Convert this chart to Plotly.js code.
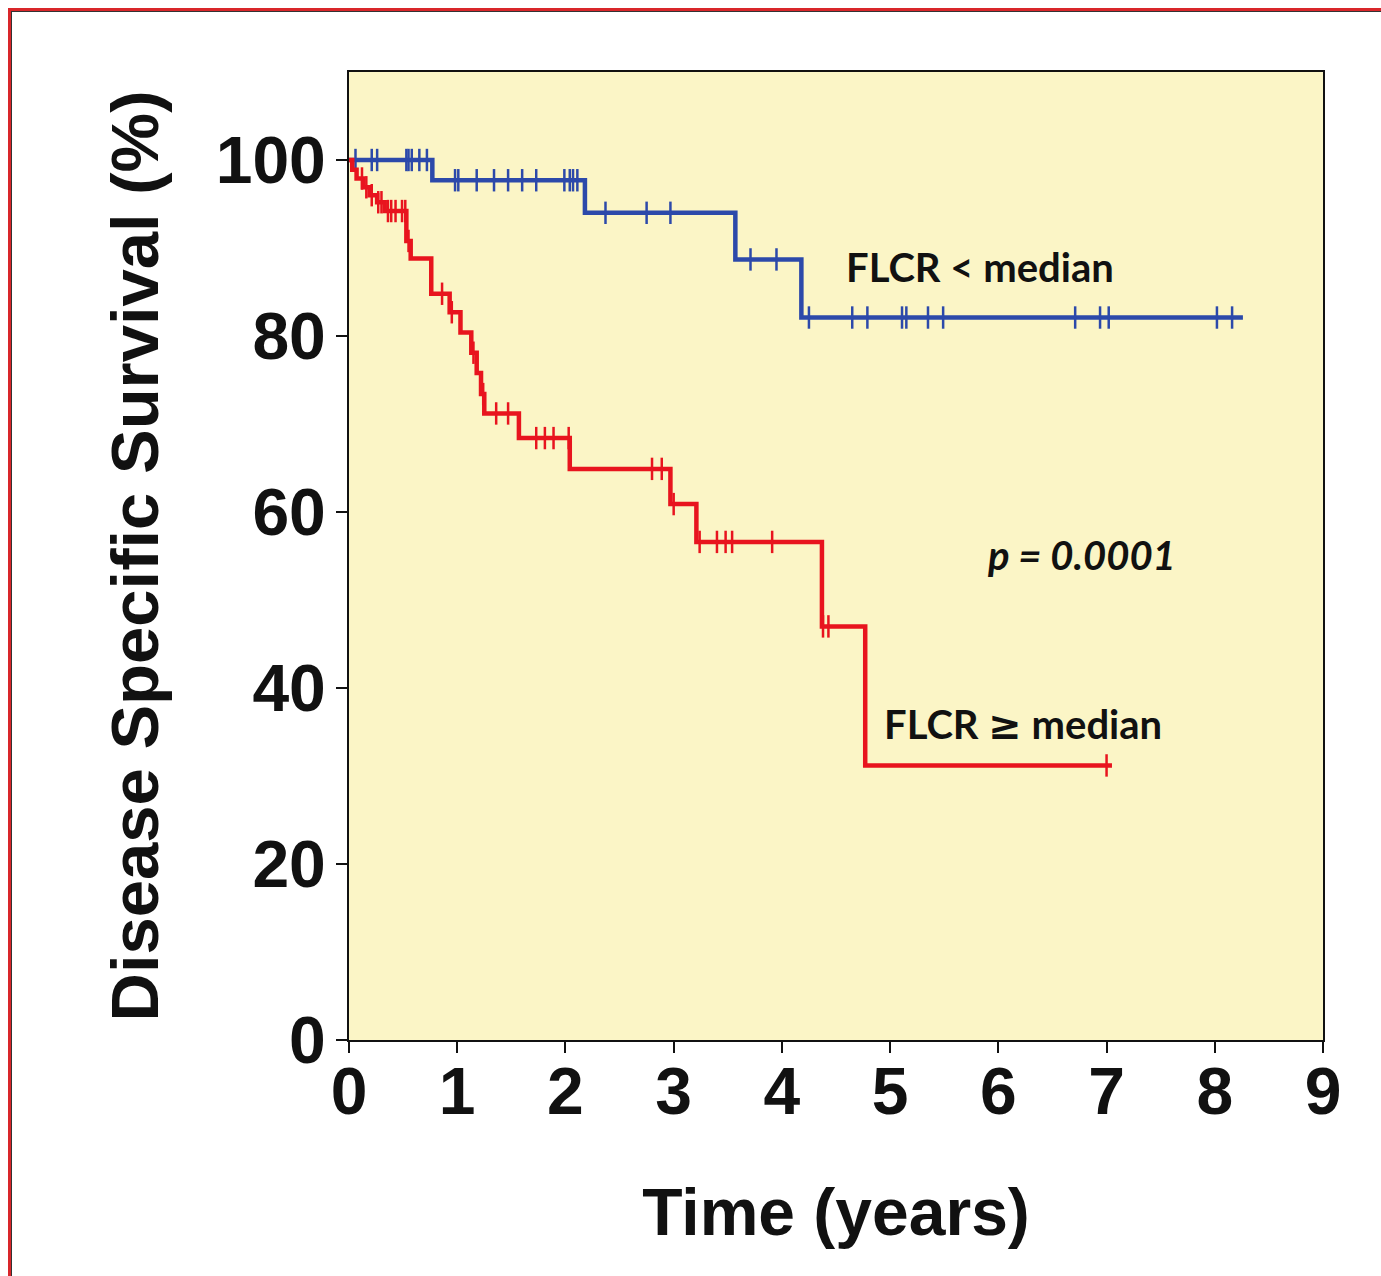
<!DOCTYPE html>
<html>
<head>
<meta charset="utf-8">
<script src="https://cdn.plot.ly/plotly-3.0.1.min.js"></script>
<style>
  html, body { margin: 0; padding: 0; background: #ffffff; }
  #wrap { position: relative; width: 1381px; height: 1276px; overflow: hidden; }
  #chart { position: absolute; left: 0; top: 0; width: 1381px; height: 1276px; }
  #frame { position: absolute; left: 8px; top: 8px; width: 1400px; height: 1300px;
           border-left: 3px solid #d9262a; border-top: 3px solid #d9262a;
           box-shadow: inset 1px 1px 0 #333; pointer-events: none; }
</style>
</head>
<body>
<div id="wrap">
  <div id="chart"></div>
  <div id="frame"></div>
</div>
<script>
// FLCR < median (blue) Kaplan-Meier steps
const lowTimes = [0, 0.77, 2.18, 3.57, 4.18, 8.26];
const lowSurv  = [100, 97.7, 94.0, 88.7, 82.1, 82.1];
// censored observations, FLCR < median
const lowCensTimes = [0.06, 0.21, 0.26, 0.53, 0.55, 0.58, 0.65, 0.72,
                      0.98, 1.01, 1.18, 1.34, 1.47, 1.60, 1.73, 1.99, 2.04, 2.07, 2.11,
                      2.37, 2.75, 2.97,
                      3.71, 3.95,
                      4.25, 4.65, 4.79, 5.11, 5.15, 5.35, 5.49, 6.71, 6.94, 7.02, 8.02, 8.16];
const lowCensSurv  = [100, 100, 100, 100, 100, 100, 100, 100,
                      97.7, 97.7, 97.7, 97.7, 97.7, 97.7, 97.7, 97.7, 97.7, 97.7, 97.7,
                      94.0, 94.0, 94.0,
                      88.7, 88.7,
                      82.1, 82.1, 82.1, 82.1, 82.1, 82.1, 82.1, 82.1, 82.1, 82.1, 82.1, 82.1];

// FLCR >= median (red) Kaplan-Meier steps
const highTimes = [0, 0.03, 0.07, 0.13, 0.19, 0.26, 0.33, 0.53, 0.57, 0.76, 0.93, 1.03, 1.13,
                   1.18, 1.22, 1.25, 1.57, 2.04, 2.97, 3.21, 4.37, 4.77, 7.05];
const highSurv  = [100, 98.9, 97.9, 96.9, 96.0, 95.2, 94.2, 90.8, 88.8, 84.8, 82.7, 80.4, 78.1,
                   75.8, 73.4, 71.2, 68.4, 64.9, 60.9, 56.6, 47.0, 31.2, 31.2];
// censored observations, FLCR >= median
const highCensTimes = [0.12, 0.16, 0.21, 0.27, 0.30, 0.36, 0.39, 0.43, 0.49, 0.52,
                       0.55, 0.86, 0.95, 1.15, 1.24, 1.36, 1.47,
                       1.73, 1.81, 1.89, 2.03, 2.80, 2.89, 3.00,
                       3.24, 3.40, 3.48, 3.54, 3.91, 4.38, 4.43, 7.00];
const highCensSurv  = [97.9, 96.9, 96.0, 95.2, 95.2, 94.2, 94.2, 94.2, 94.2, 94.2,
                       90.8, 84.8, 82.7, 78.1, 73.4, 71.2, 71.2,
                       68.4, 68.4, 68.4, 68.4, 64.9, 64.9, 60.9,
                       56.6, 56.6, 56.6, 56.6, 56.6, 47.0, 47.0, 31.2];

const xTicks = [0, 1, 2, 3, 4, 5, 6, 7, 8, 9];
const yTicks = [0, 20, 40, 60, 80, 100];

const blue = '#2c49aa';
const red  = '#e8141e';

const traces = [
  { x: lowTimes, y: lowSurv, mode: 'lines', line: { shape: 'hv', color: blue, width: 4.5 },
    name: 'FLCR < median', showlegend: false, hoverinfo: 'x+y' },
  { x: lowCensTimes, y: lowCensSurv, mode: 'markers',
    marker: { symbol: 'line-ns-open', size: 16, color: blue, line: { color: blue, width: 2.5 } },
    showlegend: false, hoverinfo: 'x+y' },
  { x: highTimes, y: highSurv, mode: 'lines', line: { shape: 'hv', color: red, width: 4.5 },
    name: 'FLCR ≥ median', showlegend: false, hoverinfo: 'x+y' },
  { x: highCensTimes, y: highCensSurv, mode: 'markers',
    marker: { symbol: 'line-ns-open', size: 16, color: red, line: { color: red, width: 2.5 } },
    showlegend: false, hoverinfo: 'x+y' }
];

const axisFont = { family: 'Liberation Sans, Arial, sans-serif', size: 66, color: '#111', weight: 'bold' };
const annFont = { family: 'Lato, Open Sans, sans-serif', size: 40, color: '#111', weight: 'bold' };

const layout = {
  width: 1381, height: 1276,
  margin: { l: 349, r: 58, t: 72, b: 236 },
  paper_bgcolor: 'rgba(0,0,0,0)',
  plot_bgcolor: '#fbf5c6',
  showlegend: false,
  xaxis: {
    range: [0, 9], tickvals: xTicks, ticktext: xTicks.map(String),
    showgrid: false, zeroline: false,
    showline: true, mirror: true, linecolor: '#111', linewidth: 2,
    ticks: 'outside', ticklen: 11, tickwidth: 2, tickcolor: '#111',
    tickfont: axisFont, ticklabelstandoff: -18,
    title: { text: 'Time (years)', font: { family: 'Liberation Sans, Arial, sans-serif', size: 66, color: '#111', weight: 'bold' }, standoff: 62 },
    automargin: false
  },
  yaxis: {
    range: [0, 110], tickvals: yTicks, ticktext: yTicks.map(String),
    showgrid: false, zeroline: false,
    showline: true, mirror: true, linecolor: '#111', linewidth: 2,
    ticks: 'outside', ticklen: 11, tickwidth: 2, tickcolor: '#111',
    tickfont: axisFont, ticklabelstandoff: -3,
    title: { text: 'Disease Specific Survival (%)', font: { family: 'Liberation Sans, Arial, sans-serif', size: 67, color: '#111', weight: 'bold' }, standoff: 35 },
    automargin: false
  },
  annotations: [
    { x: 5.83, y: 87.8, xref: 'x', yref: 'y', text: 'FLCR < median', showarrow: false, font: annFont },
    { x: 6.77, y: 55.1, xref: 'x', yref: 'y', text: '<i>p = 0.0001</i>', showarrow: false, font: annFont },
    { x: 6.23, y: 35.9, xref: 'x', yref: 'y', text: 'FLCR <span style="font-family:DejaVu Sans">≥</span> median', showarrow: false, font: annFont }
  ]
};

Plotly.newPlot('chart', traces, layout, { displayModeBar: false, staticPlot: true });
</script>
</body>
</html>
